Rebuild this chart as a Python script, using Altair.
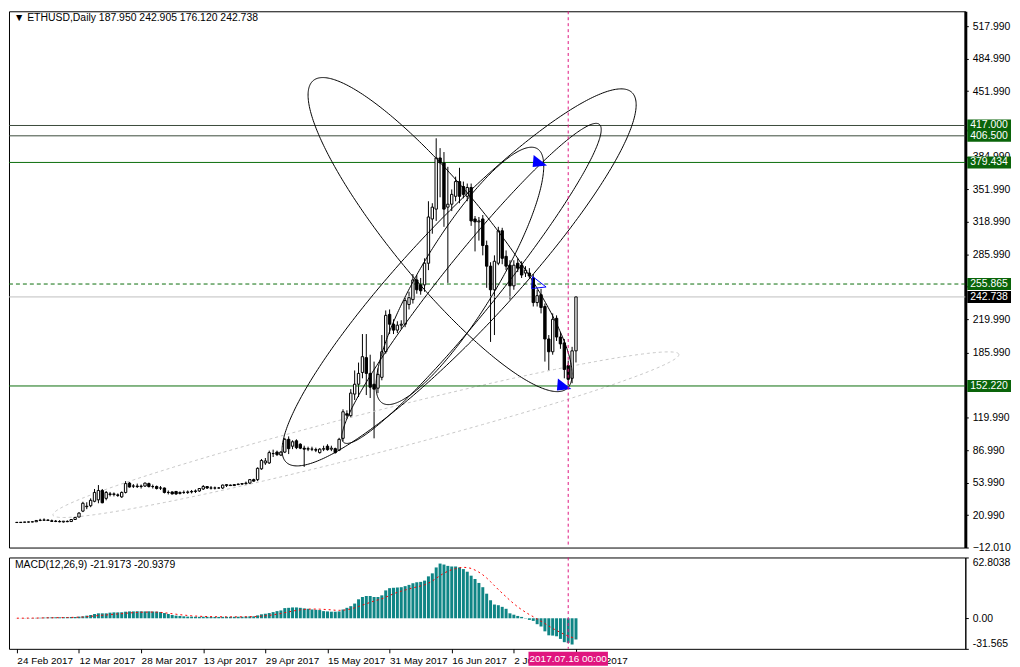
import numpy as np
import pandas as pd
import altair as alt

# ---------------- data ----------------
opens = [13.6, 13.4, 13.7, 13.9, 14.0, 14.2, 15.5, 15.8, 16.0, 15.2,
         14.8, 14.5, 14.0, 14.6, 14.4, 16.5, 19.0, 25.0, 29.5, 30.5,
         35.0, 36.5, 46.0, 38.0, 42.5, 42.0, 41.5, 39.5, 44.0, 53.5,
         50.5, 50.5, 50.0, 50.5, 53.0, 50.0, 50.0, 48.5, 48.5, 44.0,
         44.5, 45.0, 43.0, 44.0, 44.0, 44.5, 45.0, 45.5, 47.5, 50.0,
         48.5, 48.5, 48.5, 48.5, 51.0, 51.5, 51.0, 52.0, 52.5, 53.0,
         53.5, 57.0, 57.0, 68.0, 74.0, 74.0, 83.5, 85.0, 82.0, 85.0,
         98.0, 91.0, 96.5, 93.0, 89.0, 88.0, 88.0, 87.5, 84.5, 88.0,
         91.0, 88.0, 88.5, 87.0, 99.0, 124.0, 122.0, 144.0, 154.0, 166.0,
         181.0, 165.0, 154.0, 150.0, 161.0, 187.0, 225.0, 215.0, 209.0, 214.0,
         215.0, 235.0, 240.0, 260.0, 255.0, 255.0, 277.0, 322.0, 332.0, 384.0,
         379.0, 334.0, 337.0, 345.0, 360.0, 355.0, 345.0, 354.0, 322.0, 319.0,
         322.0, 295.0, 274.0, 250.0, 277.0, 310.0, 284.0, 275.0, 254.0, 277.0,
         275.0, 267.0, 267.0, 262.0, 237.0, 245.0, 233.0, 200.0, 187.0, 221.0,
         202.0, 196.0, 173.0, 160.0, 187.95]
highs = [14.0, 13.9, 14.1, 14.3, 14.6, 15.9, 17.2, 17.6, 16.4, 16.4,
         16.0, 15.8, 15.0, 15.6, 17.0, 19.0, 24.0, 34.5, 34.0, 38.0,
         47.5, 51.5, 47.5, 45.5, 44.5, 44.0, 43.0, 45.0, 55.5, 54.5,
         52.5, 53.0, 52.0, 54.0, 54.0, 52.0, 51.0, 50.5, 49.0, 46.0,
         45.0, 45.5, 45.0, 46.0, 46.0, 46.5, 47.0, 48.5, 51.5, 50.5,
         50.5, 50.0, 49.5, 52.0, 52.5, 52.0, 52.5, 53.0, 53.5, 55.0,
         57.5, 58.0, 69.5, 78.0, 79.0, 86.5, 87.5, 86.5, 86.0, 99.5,
         101.0, 97.0, 98.0, 94.0, 91.5, 90.5, 90.5, 89.5, 89.0, 91.5,
         93.0, 91.5, 89.5, 99.5, 128.5, 127.5, 149.0, 168.0, 176.0, 205.0,
         205.0, 184.0, 177.0, 170.0, 204.0, 229.0, 230.0, 220.0, 218.0, 219.0,
         242.0, 248.0, 266.0, 265.0, 262.0, 282.0, 340.0, 338.0, 404.0, 394.0,
         390.0, 375.0, 352.0, 365.0, 374.0, 360.0, 358.0, 358.0, 325.0, 324.0,
         326.0, 300.0, 278.0, 285.0, 314.0, 313.0, 290.0, 280.0, 280.0, 282.0,
         279.0, 274.0, 272.0, 266.0, 250.0, 251.0, 236.0, 204.0, 226.0, 224.0,
         207.0, 200.0, 178.0, 192.0, 242.905]
lows = [13.2, 13.1, 13.4, 13.5, 13.7, 14.0, 14.8, 15.0, 15.2, 14.0,
        13.8, 13.6, 13.4, 13.8, 14.0, 16.2, 18.6, 24.0, 27.0, 29.0,
        34.0, 33.0, 33.0, 36.0, 40.0, 40.0, 39.5, 38.5, 43.0, 49.0,
        48.5, 48.5, 48.0, 49.5, 49.0, 48.0, 47.0, 46.5, 43.0, 42.0,
        42.0, 41.5, 42.0, 42.5, 42.5, 43.0, 43.5, 44.5, 46.5, 47.5,
        47.0, 47.0, 48.0, 47.5, 49.5, 50.5, 50.5, 51.5, 51.5, 51.5,
        52.5, 55.0, 55.5, 67.0, 72.0, 73.0, 80.0, 81.0, 81.0, 84.0,
        83.0, 88.0, 88.0, 88.0, 70.0, 86.0, 86.0, 85.0, 83.5, 86.0,
        86.5, 86.0, 83.5, 86.0, 96.0, 119.0, 120.0, 138.0, 141.0, 160.0,
        143.0, 140.0, 99.0, 145.0, 158.0, 185.0, 205.0, 205.0, 206.0, 210.0,
        212.0, 230.0, 236.0, 246.0, 245.0, 248.0, 270.0, 307.0, 320.0, 344.0,
        314.0, 257.0, 330.0, 340.0, 338.0, 343.0, 340.0, 315.0, 289.0, 300.0,
        285.0, 252.0, 197.0, 204.0, 275.0, 276.0, 270.0, 240.0, 250.0, 268.0,
        262.0, 263.0, 262.0, 233.0, 233.0, 226.0, 177.0, 168.0, 184.0, 198.0,
        190.0, 160.0, 153.0, 155.0, 176.12]
closes = [13.4, 13.7, 13.9, 14.0, 14.2, 15.5, 15.8, 16.0, 15.6, 14.6,
          14.5, 14.2, 14.8, 14.3, 16.5, 18.6, 23.0, 33.0, 30.0, 36.0,
          44.0, 46.0, 33.5, 44.0, 42.0, 42.5, 41.0, 44.0, 53.0, 49.5,
          50.5, 50.0, 50.5, 53.5, 50.0, 50.0, 48.0, 48.5, 44.0, 44.0,
          42.5, 42.5, 44.0, 44.0, 44.5, 45.0, 45.5, 48.0, 50.0, 48.5,
          48.5, 48.5, 48.5, 51.5, 52.0, 51.0, 52.0, 52.5, 53.0, 53.5,
          57.0, 55.5, 68.5, 76.5, 76.0, 84.5, 83.5, 82.5, 85.0, 98.0,
          88.5, 95.5, 89.5, 89.0, 88.0, 88.5, 88.0, 87.0, 88.0, 88.5,
          87.5, 89.0, 84.5, 98.0, 126.0, 122.5, 145.0, 154.0, 165.0, 182.0,
          165.0, 151.0, 149.0, 164.0, 187.0, 224.0, 215.0, 209.0, 214.0, 215.0,
          239.0, 242.0, 260.0, 250.0, 249.0, 277.0, 324.0, 334.0, 384.0, 379.0,
          332.0, 337.0, 347.0, 360.0, 345.0, 347.0, 354.0, 320.0, 319.0, 320.0,
          295.0, 274.0, 250.0, 279.0, 310.0, 282.0, 274.0, 254.0, 275.0, 272.0,
          265.0, 270.0, 264.0, 237.0, 244.0, 232.0, 200.0, 187.0, 220.0, 202.0,
          195.0, 169.0, 159.0, 187.95, 242.738]
macd_main = [0.1, 0.1, 0.2, 0.2, 0.3, 0.4, 0.5, 0.7, 0.9, 1.0,
             1.0, 1.0, 1.1, 1.2, 1.3, 1.3, 1.7, 2.0, 2.7, 3.4,
             4.4, 5.1, 5.1, 5.1, 5.8, 6.1, 6.1, 6.2, 6.8, 7.1,
             7.1, 7.2, 7.2, 7.1, 7.2, 7.0, 6.9, 6.4, 5.4, 4.4,
             3.4, 2.7, 2.4, 2.0, 1.7, 1.7, 1.6, 1.5, 1.6, 1.5,
             1.4, 1.4, 1.4, 1.5, 1.5, 1.5, 1.5, 1.6, 1.6, 1.7,
             2.0, 2.0, 3.0, 4.1, 4.7, 5.4, 6.4, 7.4, 8.1, 10.5,
             10.8, 11.2, 11.2, 10.8, 10.2, 9.8, 9.1, 8.8, 8.5, 7.4,
             7.1, 6.8, 6.8, 7.1, 9.1, 10.8, 12.5, 15.2, 19.6, 22.0,
             23.0, 23.0, 22.0, 22.0, 23.7, 28.8, 31.1, 31.5, 31.8, 32.1,
             33.2, 34.5, 36.2, 37.2, 37.6, 38.9, 43.3, 46.4, 52.5, 56.5,
             55.5, 54.1, 53.5, 53.5, 52.5, 50.8, 48.1, 44.0, 40.6, 36.5,
             32.1, 25.4, 18.6, 14.2, 13.5, 11.8, 9.8, 5.1, 3.7, 2.4,
             1.4, -0.3, -1.7, -2.7, -6.1, -8.5, -13.5, -17.6, -17.9, -18.6,
             -21.3, -24.7, -25.4, -27.1, -21.9173]
macd_signal = [0.1, 0.1, 0.1, 0.2, 0.2, 0.2, 0.3, 0.4, 0.5, 0.5,
               0.6, 0.7, 0.7, 0.8, 0.9, 1.0, 1.1, 1.3, 1.7, 2.0,
               2.4, 2.8, 3.1, 3.4, 3.8, 4.2, 4.5, 4.8, 5.2, 5.5,
               5.8, 6.0, 6.2, 6.3, 6.4, 6.4, 6.3, 6.1, 5.7, 5.2,
               4.7, 4.2, 3.7, 3.3, 2.9, 2.6, 2.3, 2.1, 1.9, 1.8,
               1.7, 1.6, 1.6, 1.5, 1.5, 1.5, 1.5, 1.5, 1.5, 1.6,
               1.6, 1.7, 1.9, 2.2, 2.6, 3.0, 3.6, 4.2, 4.9, 5.8,
               6.6, 7.4, 8.1, 8.7, 9.1, 9.4, 9.5, 9.5, 9.4, 9.2,
               9.0, 8.7, 8.3, 8.2, 8.3, 8.8, 9.6, 10.8, 12.2, 13.6,
               15.0, 16.4, 17.8, 19.0, 20.1, 21.8, 23.5, 25.3, 26.8, 28.0,
               29.2, 30.3, 31.4, 32.4, 33.4, 34.6, 36.3, 38.5, 41.3, 44.1,
               46.6, 48.6, 50.1, 51.3, 52.2, 52.6, 52.4, 51.5, 49.8, 47.6,
               44.9, 41.6, 37.8, 33.7, 29.7, 25.9, 22.2, 18.5, 15.0, 11.8,
               8.9, 6.3, 3.8, 1.6, -0.8, -3.0, -5.4, -8.0, -10.4, -12.6,
               -14.6, -16.6, -18.4, -19.8, -20.9379]

date_tick_bars = [0, 16, 32, 48, 64, 80, 96, 112, 128, 144]
date_tick_labels = ["24 Feb 2017", "12 Mar 2017", "28 Mar 2017", "13 Apr 2017",
                    "29 Apr 2017", "15 May 2017", "31 May 2017", "16 Jun 2017",
                    "2 Jul 2017", "18 Jul 2017"]
price_ticks = [517.99, 484.99, 451.99, 384.99, 351.99, 318.99, 285.99,
               252.99, 219.99, 185.99, 119.99, 86.99, 53.99, 20.99, -12.01]
macd_ticks = [62.8038, 0.0, -31.565]
macd_tick_labels = ["62.8038", "0.00", "-31.565"]

solid_levels = [417.0, 406.5, 379.434, 152.22]
solid_level_colors = ["#3a4a3a", "#3a4a3a", "#0b6e0b", "#0b6e0b"]
dashed_level = [255.865]
bid_level = [242.738]
box_prices = [417.0, 406.5, 379.434, 255.865, 152.22, 242.738]
box_texts = ["417.000", "406.500", "379.434", "255.865", "152.220", "242.738"]
box_colors = ["#0a640a", "#0a640a", "#0a640a", "#0a640a", "#0a640a", "#000000"]

cursor_bar = [142]
cursor_text = ["2017.07.16 00:00"]
header_text = ["\u25bc ETHUSD,Daily  187.950 242.905 176.120 242.738"]
macd_header = ["MACD(12,26,9) -21.9173 -20.9379"]

# ellipse objects: centre (bar, price) and two conjugate semi-axes (bar, price)
ell_ci = [109.0, 113.9, 117.1, 114.1]
ell_cp = [306.1, 262.6, 256.5, 264.1]
ell_ai = [34.0, 45.6, 33.4, 21.6]
ell_ap = [-141.8, 175.4, 156.3, 111.7]
ell_bi = [0.0, 0.0, 0.0, 0.0]
ell_bp = [-73.3, -77.2, -45.1, -68.1]
gray_ell = [89.9, 102.7, 80.6, 81.7, 1.275, -20.3]

arrow_bars = [134.25, 140.5, 134.0]
arrow_prices = [379.434, 152.22, 255.865]
arrow_filled = [True, True, False]

# ---------------- build ----------------
W, H1, H2 = 963, 540, 92
FONT = "Tahoma, Liberation Sans, DejaVu Sans"
FS = 10.5
FSD = 10
PINK = "#e0157f"
TEAL = "#0f8585"

n = len(closes)
bars = pd.DataFrame({"i": list(range(n)), "o": opens, "h": highs, "l": lows, "c": closes,
                     "m": macd_main, "s": macd_signal})

xs = alt.Scale(domain=[-0.75, 243], nice=False, zero=False)
ys = alt.Scale(domain=[-12.01, 533.1], nice=False, zero=False)
ms = alt.Scale(domain=[-31.565, 62.8038], nice=False, zero=False)

price_axis = alt.Axis(orient="right", values=price_ticks, format=".3f", title="", grid=False,
                      domainColor="black", domainWidth=3, tickColor="black", tickSize=3,
                      labelFont=FONT, labelFontSize=FS, labelColor="black", labelPadding=4,
                      labelFlush=False, labelOverlap=False)
date_expr = "[" + ",".join("'%s'" % s for s in date_tick_labels) + "][round(datum.value/16)]"
date_axis = alt.Axis(orient="bottom", values=date_tick_bars, labelExpr=date_expr, labelAlign="left",
                     labelPadding=3, tickSize=4, tickColor="black", domain=False, grid=False,
                     labelFont=FONT, labelFontSize=FSD, labelColor="black", title="",
                     labelOverlap=False, labelFlush=False)
macd_expr = ("datum.value > 1 ? '%s' : (datum.value < -1 ? '%s' : '%s')"
             % (macd_tick_labels[0], macd_tick_labels[2], macd_tick_labels[1]))
macd_axis = alt.Axis(orient="right", values=macd_ticks, labelExpr=macd_expr, title="", grid=False,
                     domainColor="black", domainWidth=1, tickColor="black", tickSize=3,
                     labelFont=FONT, labelFontSize=FS, labelColor="black", labelPadding=4,
                     labelFlush=True, labelOverlap=False)


def XM(f="i:Q"):
    return alt.X(f, scale=xs, axis=None)


def YM(f):
    return alt.Y(f, scale=ys, axis=price_axis)


def XD(f="i:Q"):
    return alt.X(f, scale=xs, axis=date_axis)


def YD(f):
    return alt.Y(f, scale=ms, axis=macd_axis)


wicks = alt.Chart(bars).mark_rule(color="black", strokeWidth=1).encode(
    x=XM(), y=YM("l:Q"), y2="h:Q")
bodies = alt.Chart(bars).mark_bar(width=2.4, stroke="black", strokeWidth=1).encode(
    x=XM(), y=YM("o:Q"), y2="c:Q",
    fill=alt.condition("datum.c >= datum.o", alt.value("white"), alt.value("black")))

lv = pd.DataFrame({"price": solid_levels, "col": solid_level_colors})
level_rules = alt.Chart(lv).mark_rule(strokeWidth=1).encode(
    y=YM("price:Q"), x=alt.value(0), x2=alt.value(W),
    color=alt.Color("col:N", scale=None))
dash_rule = alt.Chart(pd.DataFrame({"price": dashed_level})).mark_rule(
    strokeWidth=1, color="#0b6e0b", strokeDash=[4, 3]).encode(
    y=YM("price:Q"), x=alt.value(0), x2=alt.value(W))
bid_rule = alt.Chart(pd.DataFrame({"price": bid_level})).mark_rule(
    strokeWidth=1, color="#c0c0c0").encode(
    y=YM("price:Q"), x=alt.value(0), x2=alt.value(W))

# ellipses
rows = []
t = np.linspace(0, 2 * np.pi, 361)
for k in range(len(ell_ci)):
    for j, tt in enumerate(t):
        rows.append({"e": k, "k": j,
                     "i": ell_ci[k] + np.cos(tt) * ell_ai[k] + np.sin(tt) * ell_bi[k],
                     "p": ell_cp[k] + np.cos(tt) * ell_ap[k] + np.sin(tt) * ell_bp[k]})
ell_df = pd.DataFrame(rows)
ellipses = alt.Chart(ell_df).mark_line(color="black", strokeWidth=1, clip=True).encode(
    x=XM(), y=YM("p:Q"), detail="e:N", order="k:Q")
g = gray_ell
gdf = pd.DataFrame({"k": list(range(len(t))),
                    "i": g[0] + np.cos(t) * g[2] + np.sin(t) * g[4],
                    "p": g[1] + np.cos(t) * g[3] + np.sin(t) * g[5]})
gray_ellipse = alt.Chart(gdf).mark_line(color="#c8c8c8", strokeWidth=1, strokeDash=[3, 3], clip=True).encode(
    x=XM(), y=YM("p:Q"), order="k:Q")

tri = "M-0.45,-0.75L0.9,0.3L-0.55,0.45Z"
adf = pd.DataFrame({"i": arrow_bars, "p": arrow_prices, "f": arrow_filled})
arrows_f = alt.Chart(adf[adf.f]).mark_point(shape=tri, size=400, filled=True, color="#0000ff", opacity=1).encode(
    x=XM(), y=YM("p:Q"))
arrows_o = alt.Chart(adf[~adf.f]).mark_point(shape=tri, size=400, filled=False, color="#0000ff",
                                              strokeWidth=1, opacity=1).encode(
    x=XM(), y=YM("p:Q"))

cur_df = pd.DataFrame({"i": cursor_bar, "t": cursor_text})
cursor_main = alt.Chart(cur_df).mark_rule(color=PINK, strokeDash=[3, 3], strokeWidth=1).encode(
    x=XM(), y=alt.value(0), y2=alt.value(H1))

box_path = "M-1,-0.2727L1,-0.2727L1,0.2727L-1,0.2727Z"
bdf = pd.DataFrame({"price": box_prices, "txt": box_texts, "col": box_colors})
boxes = alt.Chart(bdf).mark_point(shape=box_path, size=44 * 44, filled=True, opacity=1, strokeWidth=0).encode(
    x=alt.value(W + 24), y=YM("price:Q"), color=alt.Color("col:N", scale=None))
box_txt = alt.Chart(bdf).mark_text(align="left", baseline="middle", color="white", font=FONT, fontSize=FS).encode(
    x=alt.value(W + 5), y=YM("price:Q"), text="txt:N")

header = alt.Chart(pd.DataFrame({"t": header_text})).mark_text(
    align="left", baseline="middle", font=FONT, fontSize=FS, color="black").encode(
    x=alt.value(5), y=alt.value(7), text="t:N")

main = alt.layer(wicks, gray_ellipse, level_rules, dash_rule, bid_rule, bodies, ellipses,
                 arrows_f, arrows_o, cursor_main, boxes, box_txt, header).properties(width=W, height=H1)

# ---------------- MACD ----------------
hist = alt.Chart(bars).mark_bar(width=3, color=TEAL).encode(x=XD(), y=YD("m:Q"))
sig = alt.Chart(bars).mark_line(color="red", strokeDash=[2, 3], strokeWidth=1).encode(
    x=XD(), y=YD("s:Q"))
cursor_macd = alt.Chart(cur_df).mark_rule(color=PINK, strokeDash=[3, 3], strokeWidth=1).encode(
    x=XD(), y=alt.value(0), y2=alt.value(H2))
date_box = alt.Chart(cur_df).mark_point(shape="M-1,-0.175L1,-0.175L1,0.175L-1,0.175Z", size=6400,
                                        filled=True, opacity=1, color=PINK, strokeWidth=0).encode(
    x=XD(), y=alt.value(H2 + 10))
date_txt = alt.Chart(cur_df).mark_text(align="center", baseline="middle", color="white",
                                       font=FONT, fontSize=FSD).encode(
    x=XD(), y=alt.value(H2 + 10), text="t:N")
macd_head = alt.Chart(pd.DataFrame({"t": macd_header})).mark_text(
    align="left", baseline="middle", font=FONT, fontSize=FS, color="black").encode(
    x=alt.value(6), y=alt.value(8), text="t:N")

macd = alt.layer(hist, sig, cursor_macd, date_box, date_txt, macd_head).properties(width=W, height=H2)

chart = alt.vconcat(main, macd, spacing=3).properties(padding=0, background="white").configure_view(
    stroke="black", strokeWidth=1)

chart.save("out.html", embed_options={"renderer": "svg", "actions": False})
